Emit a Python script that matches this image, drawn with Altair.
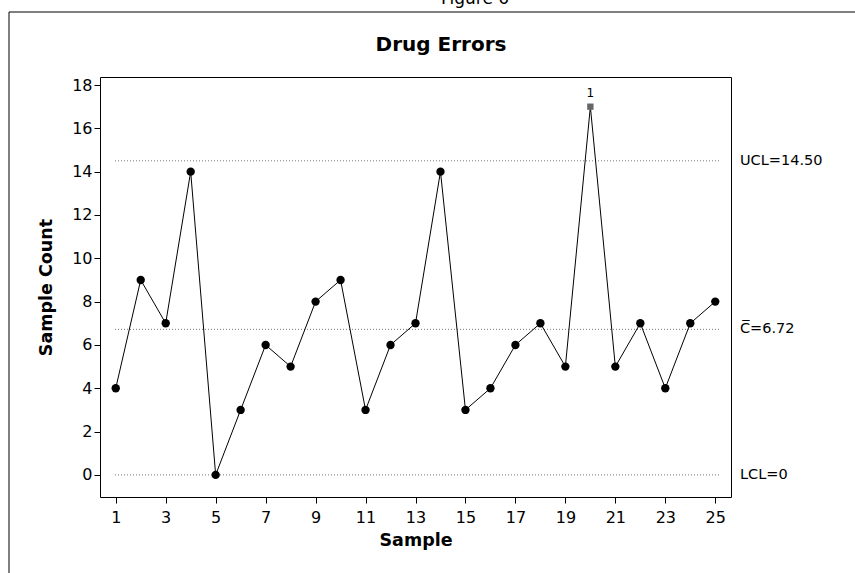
import altair as alt
import pandas as pd

samples = list(range(1, 26))
counts = [4, 9, 7, 14, 0, 3, 6, 5, 8, 9, 3, 6, 7, 14, 3, 4, 6, 7, 5, 17, 5, 7, 4, 7, 8]
limit_values = [14.50, 6.72, 0.0]
limit_labels = ["UCL=14.50", "C\u0305=6.72", "LCL=0"]
x_ticks = list(range(1, 26, 2))
y_ticks = list(range(0, 19, 2))

W, H = 631, 420
PL, PT = 100, 77
FONT = "DejaVu Sans"

df = pd.DataFrame({"Sample": samples, "Count": counts})
df["flag"] = ["out" if c > limit_values[0] else "in" for c in counts]
lim = pd.DataFrame({"v": limit_values, "label": limit_labels})

xs = alt.Scale(domain=[0.37, 25.63], nice=False, zero=False)
ys = alt.Scale(domain=[-1.02, 18.37], nice=False, zero=False)

xax = alt.Axis(values=x_ticks, title="Sample", grid=False, domain=False,
               tickColor="black", tickSize=6, labelFontSize=16, labelFont=FONT,
               labelColor="black", titleFont=FONT, titleFontSize=17.5,
               titleFontWeight="bold", titleColor="black", titlePadding=6, labelPadding=6)
yax = alt.Axis(values=y_ticks, title="Sample Count", grid=False, domain=False,
               tickColor="black", tickSize=6, labelFontSize=16, labelFont=FONT,
               labelColor="black", titleFont=FONT, titleFontSize=17.5,
               titleFontWeight="bold", titleColor="black", titlePadding=16, labelPadding=2)

base = alt.Chart(df)

line = base.mark_line(color="black", strokeWidth=1).encode(
    x=alt.X("Sample:Q", scale=xs, axis=xax),
    y=alt.Y("Count:Q", scale=ys, axis=yax),
)
pts = base.transform_filter(alt.datum.flag == "in").mark_point(
    filled=True, color="black", size=70, opacity=1, shape="circle"
).encode(x=alt.X("Sample:Q", scale=xs), y=alt.Y("Count:Q", scale=ys))
outpts = base.transform_filter(alt.datum.flag == "out").mark_point(
    filled=True, color="#666666", size=40, opacity=1, shape="square"
).encode(x=alt.X("Sample:Q", scale=xs), y=alt.Y("Count:Q", scale=ys))
outlab = base.transform_filter(alt.datum.flag == "out").mark_text(
    text="1", dy=-14, fontSize=12, font=FONT, color="black"
).encode(x=alt.X("Sample:Q", scale=xs), y=alt.Y("Count:Q", scale=ys))

rules = alt.Chart(lim).mark_rule(color="#777777", strokeDash=[1, 2], strokeWidth=1).encode(
    y=alt.Y("v:Q", scale=ys),
    x=alt.value(15),
    x2=alt.value(W - 12),
)
rlab = alt.Chart(lim).mark_text(align="left", baseline="middle", fontSize=14.5,
                                font=FONT, color="black").encode(
    y=alt.Y("v:Q", scale=ys),
    x=alt.value(W + 9),
    text="label:N",
)

one = alt.Chart(df).transform_filter(alt.datum.Sample == 1)

frame = one.mark_rect(fill=None, stroke="black", strokeWidth=1).encode(
    x=alt.value(9 - PL), x2=alt.value(900), y=alt.value(12 - PT), y2=alt.value(700)
)
fig = one.mark_text(text="Figure 6", fontSize=17, font=FONT,
                    baseline="middle", color="black").encode(
    x=alt.value(475 - PL), y=alt.value(-1 - PT)
)
title = one.mark_text(text="Drug Errors", fontSize=20, font=FONT, fontWeight="bold",
                      baseline="middle", align="center", color="black").encode(
    x=alt.value(441 - PL), y=alt.value(45 - PT)
)

chart = alt.layer(frame, fig, title, rules, line, pts, outpts, outlab, rlab).properties(
    width=W, height=H,
    background="white",
    autosize=alt.AutoSizeParams(type="none"),
    padding={"left": PL, "top": PT, "right": 855 - PL - W, "bottom": 573 - PT - H},
).configure_view(stroke="black", strokeWidth=1)

chart.save("out.html", embed_options={"renderer": "svg", "actions": False})
